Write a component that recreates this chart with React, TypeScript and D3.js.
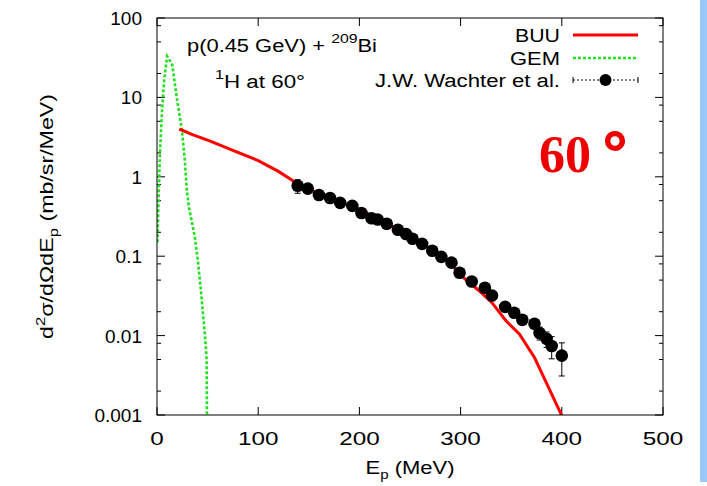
import React from "react";
import * as d3 from "d3";

// ---- data ----
const buuE = [22, 35, 52, 75, 100, 120, 140, 160, 180, 200, 225, 250, 275, 290, 304, 318, 331, 345, 358, 373, 385, 400];
const buuV = [4.0, 3.4, 2.84, 2.15, 1.6, 1.17, 0.8, 0.61, 0.49, 0.39, 0.27, 0.175, 0.115, 0.08, 0.052, 0.037, 0.026, 0.0153, 0.0105, 0.0053, 0.0025, 0.00098];

const gemE = [0.5, 1.5, 3, 5, 7, 10, 15, 20, 24.5, 27.5, 29.5, 31.6, 35, 37.5, 40.4, 43.4, 45.4, 47.3, 49, 49.5];
const gemV = [0.15, 0.5, 2.1, 6.8, 16, 33, 26, 9, 4, 1.6, 0.67, 0.41, 0.25, 0.17, 0.087, 0.037, 0.019, 0.0105, 0.005, 0.0005];

const expE = [139, 149, 160, 171, 181, 193, 202, 212, 218, 227, 238, 246, 252.5, 262, 272, 281, 291, 299, 311, 324, 331, 344, 353, 361, 373, 378, 385, 390, 400];
const expV = [0.77, 0.71, 0.59, 0.54, 0.47, 0.43, 0.35, 0.30, 0.29, 0.256, 0.215, 0.19, 0.166, 0.143, 0.117, 0.098, 0.083, 0.062, 0.048, 0.040, 0.032, 0.023, 0.0194, 0.0158, 0.0141, 0.0108, 0.0091, 0.0074, 0.0056];
const expErr = [0.15, 0.05, 0.04, 0.04, 0.035, 0.03, 0.025, 0.02, 0.02, 0.018, 0.015, 0.013, 0.012, 0.01, 0.008, 0.007, 0.006, 0.0045, 0.0035, 0.003, 0.0025, 0.002, 0.0017, 0.0015, 0.0018, 0.002, 0.002, 0.0023, 0.0025];

const xTicks = [0, 100, 200, 300, 400, 500];
const yTicks = [0.001, 0.01, 0.1, 1, 10, 100];
const yTickLabels = ["0.001", "0.01", "0.1", "1", "10", "100"];
const minorMult = [2, 5, 8];

const legendLabels = ["BUU", "GEM", "J.W. Wachter et al."];
const legendWidths = [45, 50, 185];

// ---- layout ----
const W = 707, H = 486;
const L = 157, R = 663, T = 18, B = 415;
const font = "'Liberation Sans', Arial, Helvetica, sans-serif";

export default function App() {
  const x = d3.scaleLinear().domain([0, 500]).range([L, R]);
  const y = d3.scaleLog().domain([0.001, 100]).range([B, T]);

  const line = d3.line<[number, number]>().x(d => x(d[0])).y(d => y(d[1]));
  const buuPath = line(buuE.map((e, i) => [e, buuV[i]] as [number, number])) || "";
  const gemPath = line(gemE.map((e, i) => [e, gemV[i]] as [number, number])) || "";

  const minors: number[] = [];
  yTicks.forEach(t => { if (t < 100) minorMult.forEach(m => minors.push(t * m)); });

  const legY = [35, 58, 80];
  const legTextX = 560, legL = 573, legR = 638;

  return (
    <svg width={W} height={H} style={{ position: "absolute", left: 0, top: 0, background: "#fff" }}>
      <defs>
        <clipPath id="plotclip">
          <rect x={L} y={T} width={R - L} height={B - T} />
        </clipPath>
      </defs>
      <rect x={0} y={0} width={W} height={H} fill="#fff" />
      {/* right blue bar */}
      <rect x={700} y={0} width={7} height={482} fill="#99c9f9" />

      {/* ticks */}
      <g stroke="#000" strokeWidth={1}>
        {xTicks.map(t => (
          <g key={"xt" + t}>
            <line x1={x(t)} x2={x(t)} y1={B} y2={B - 8} />
            <line x1={x(t)} x2={x(t)} y1={T} y2={T + 8} />
          </g>
        ))}
        {yTicks.map(t => (
          <g key={"yt" + t}>
            <line x1={L} x2={L + 8} y1={y(t)} y2={y(t)} />
            <line x1={R} x2={R - 8} y1={y(t)} y2={y(t)} />
          </g>
        ))}
        {minors.map(t => (
          <g key={"ym" + t}>
            <line x1={L} x2={L + 4} y1={y(t)} y2={y(t)} />
            <line x1={R} x2={R - 4} y1={y(t)} y2={y(t)} />
          </g>
        ))}
      </g>

      {/* tick labels */}
      <g fontFamily={font} fontSize={19} fill="#000">
        {xTicks.map(t => (
          <text key={"xl" + t} x={x(t)} y={445} textAnchor="middle" textLength={String(t).length * 13.5} lengthAdjust="spacingAndGlyphs">{t}</text>
        ))}
        {yTicks.map((t, i) => (
          <text key={"yl" + t} x={142} y={y(t) + 7} textAnchor="end">{yTickLabels[i]}</text>
        ))}
      </g>

      {/* axis titles */}
      <text x={(L + R) / 2} y={474} textAnchor="middle" fontFamily={font} fontSize={19} textLength={89} lengthAdjust="spacingAndGlyphs">
        E<tspan fontSize={13} dy={5}>p</tspan><tspan dy={-5}> (MeV)</tspan>
      </text>
      <text transform={`translate(53, ${(T + B) / 2}) rotate(-90)`} textAnchor="middle" fontFamily={font} fontSize={18} textLength={245} lengthAdjust="spacingAndGlyphs">
        d<tspan fontSize={13} dy={-8}>2</tspan><tspan dy={8}>σ/dΩdE</tspan><tspan fontSize={13} dy={5}>p</tspan><tspan dy={-5}> (mb/sr/MeV)</tspan>
      </text>

      {/* curves */}
      <g clipPath="url(#plotclip)">
        <path d={gemPath} fill="none" stroke="#22e022" strokeWidth={2.6} strokeDasharray="3 2" />
        <path d={buuPath} fill="none" stroke="#ff0000" strokeWidth={3} />
        {expE.map((e, i) => {
          const lo = Math.max(expV[i] - expErr[i], 1e-4);
          const hi = expV[i] + expErr[i];
          return (
            <g key={"eb" + i} stroke="#000" strokeWidth={1}>
              <line x1={x(e)} x2={x(e)} y1={y(lo)} y2={y(hi)} />
              <line x1={x(e) - 3} x2={x(e) + 3} y1={y(lo)} y2={y(lo)} />
              <line x1={x(e) - 3} x2={x(e) + 3} y1={y(hi)} y2={y(hi)} />
            </g>
          );
        })}
        {expE.map((e, i) => (
          <circle key={"pt" + i} cx={x(e)} cy={y(expV[i])} r={6.3} fill="#000" />
        ))}
      </g>

      {/* frame */}
      <rect x={L} y={T} width={R - L} height={B - T} fill="none" stroke="#000" strokeWidth={1} />

      {/* annotations */}
      <text x={187} y={52} fontFamily={font} fontSize={18} textLength={190} lengthAdjust="spacingAndGlyphs">
        p(0.45 GeV) + <tspan fontSize={13} dy={-9}>209</tspan><tspan dy={9}>Bi</tspan>
      </text>
      <text x={215} y={88} fontFamily={font} fontSize={18} textLength={90} lengthAdjust="spacingAndGlyphs">
        <tspan fontSize={13} dy={-9}>1</tspan><tspan dy={9}>H at 60°</tspan>
      </text>

      {/* legend */}
      <g fontFamily={font} fontSize={18}>
        {legendLabels.map((lab, i) => (
          <text key={lab} x={legTextX} y={legY[i] + 7} textAnchor="end" textLength={legendWidths[i]} lengthAdjust="spacingAndGlyphs">{lab}</text>
        ))}
      </g>
      <line x1={legL} x2={legR} y1={legY[0]} y2={legY[0]} stroke="#ff0000" strokeWidth={3} />
      <line x1={legL} x2={legR} y1={legY[1]} y2={legY[1]} stroke="#22e022" strokeWidth={2.6} strokeDasharray="3 2" />
      <g stroke="#000" strokeWidth={1}>
        <line x1={legL} x2={legR} y1={legY[2]} y2={legY[2]} strokeDasharray="2 2" />
        <line x1={legL} x2={legL} y1={legY[2] - 3} y2={legY[2] + 3} />
        <line x1={legR} x2={legR} y1={legY[2] - 3} y2={legY[2] + 3} />
      </g>
      <circle cx={(legL + legR) / 2} cy={legY[2]} r={6} fill="#000" />

      {/* big red angle label */}
      <text x={539} y={172} fontFamily="'Liberation Serif', 'Times New Roman', serif" fontWeight="bold" fontSize={52} fill="#ee0000">
        60<tspan dx={12} fontSize={60} stroke="#ee0000" strokeWidth={2}>°</tspan>
      </text>
    </svg>
  );
}
